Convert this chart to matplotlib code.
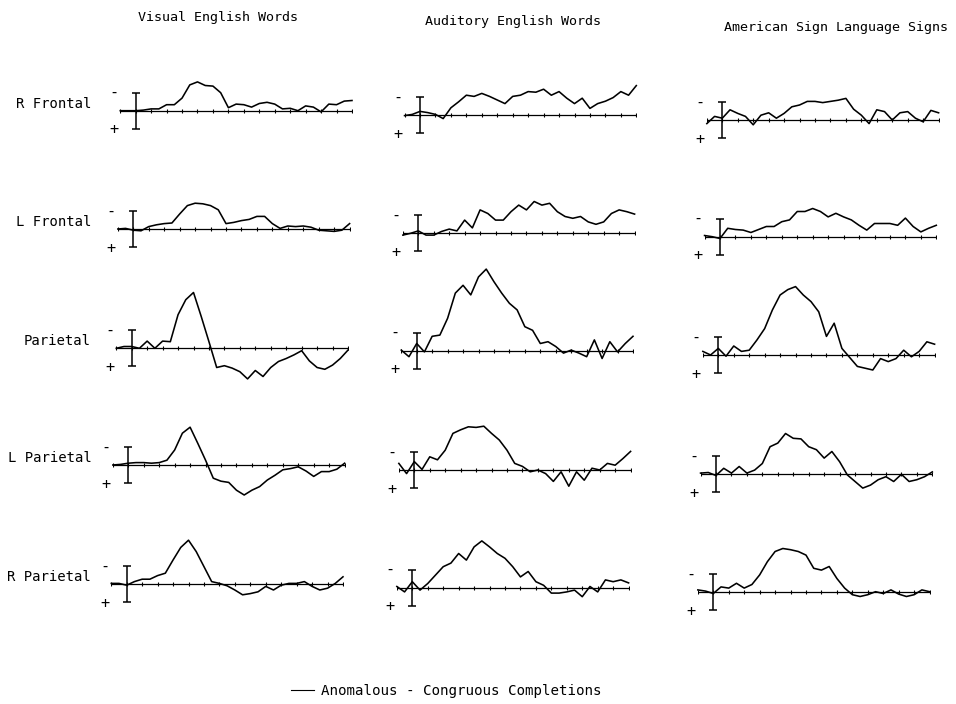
import numpy as np
import matplotlib.pyplot as plt
from matplotlib.lines import Line2D

plt.rcParams['font.family'] = 'DejaVu Sans Mono'

W, H = 956, 704
PX_PER_UV = 6.0       # vertical scale of every panel
PX_PER_MS = 0.1545    # horizontal scale of every panel

# time samples (ms) and difference waves (Anomalous - Congruous), in uV of
# negativity: positive numbers are drawn upward, as the '-' marker shows
times = list(range(-100, 1401, 50))

columns = ['Visual English Words', 'Auditory English Words',
           'American Sign Language Signs']
sites = ['R Frontal', 'L Frontal', 'Parietal', 'L Parietal', 'R Parietal']
cal_uv = 3.0
legend_label = 'Anomalous - Congruous Completions'

vis_rf = [0, 0, 0, 0.1, 0.3, 0.3, 1.0, 1.0, 2.1, 4.3, 4.8, 4.2, 4.1, 3.0, 0.5, 1.1,
          1.0, 0.6, 1.2, 1.4, 1.1, 0.3, 0.4, 0, 0.8, 0.6, -0.2, 1.1, 1.0, 1.6, 1.7]
vis_lf = [0, 0.1, -0.2, -0.3, 0.4, 0.7, 0.9, 1.0, 2.5, 3.9, 4.3, 4.2, 3.9, 3.2, 0.9, 1.1,
          1.4, 1.6, 2.1, 2.1, 0.9, 0.1, 0.5, 0.4, 0.5, 0.3, -0.2, -0.3, -0.4, -0.2, 0.9]
vis_p = [0, 0.3, 0.3, 0, 1.2, 0, 1.2, 1.1, 5.6, 8.1, 9.3, 5.3, 1.1, -3.2, -2.9, -3.3,
         -3.9, -5.1, -3.7, -4.7, -3.2, -2.2, -1.7, -1.1, -0.4, -2.1, -3.2, -3.5, -2.8, -1.7, -0.3]
vis_lp = [0, 0.1, 0.3, 0.4, 0.4, 0.3, 0.4, 0.8, 2.5, 5.3, 6.3, 3.6, 0.8, -2.2, -2.7, -2.9,
          -4.2, -5.0, -4.2, -3.6, -2.5, -1.7, -0.8, -0.6, -0.3, -1.0, -1.9, -1.1, -1.1, -0.7, 0.3]
vis_rp = [0.1, 0.1, -0.2, 0.4, 0.8, 0.8, 1.4, 1.8, 4.0, 6.1, 7.3, 5.4, 2.9, 0.4, 0.1, -0.3,
          -1.0, -1.8, -1.6, -1.3, -0.4, -1.0, -0.2, 0.1, 0.1, 0.4, -0.4, -1.0, -0.7, 0.1, 1.2]

aud_rf = [-0.1, 0.1, 0.6, 0.4, 0.1, -0.6, 1.2, 2.2, 3.3, 3.1, 3.6, 3.1, 2.5, 1.9, 3.1, 3.3,
          3.9, 3.8, 4.3, 3.3, 3.9, 2.8, 1.9, 2.8, 1.1, 1.9, 2.3, 2.9, 3.9, 3.3, 4.9]
aud_lf = [-0.3, 0, 0.4, -0.3, -0.3, 0.3, 0.7, 0.4, 2.2, 0.9, 3.9, 3.3, 2.2, 2.2, 3.6, 4.7,
          3.9, 5.3, 4.7, 5.0, 3.6, 2.8, 2.5, 2.8, 1.9, 1.5, 1.9, 3.3, 3.9, 3.6, 3.2]
aud_p = [0.1, -1.0, 1.2, -0.2, 2.4, 2.6, 5.4, 9.6, 10.9, 9.3, 12.3, 13.6, 11.5, 9.6, 7.9, 6.8,
         4.0, 3.4, 1.2, 1.5, 0.7, -0.4, 0.1, -0.4, -1.0, 1.8, -1.3, 1.5, -0.2, 1.2, 2.4]
aud_lp = [1.1, -0.6, 1.4, 0.1, 2.2, 1.7, 3.3, 6.1, 6.7, 7.2, 7.1, 7.3, 6.1, 5.0, 3.3, 1.1,
          0.6, -0.3, 0, -0.6, -1.9, -0.3, -2.7, -0.3, -1.7, 0.3, 0, 1.1, 0.8, 1.9, 3.1]
aud_rp = [0.2, -0.7, 1.0, -0.4, 0.7, 2.1, 3.5, 4.1, 5.7, 4.6, 6.8, 7.8, 6.8, 5.7, 4.9, 3.5,
          1.8, 2.7, 1.0, 0.4, -0.9, -0.9, -0.7, -0.4, -1.5, 0.2, -0.7, 1.3, 1.0, 1.3, 0.8]

asl_rf = [-0.6, 0.6, 0.3, 1.7, 1.1, 0.6, -0.8, 0.8, 1.2, 0.3, 1.1, 2.2, 2.5, 3.1, 3.1, 2.9,
          3.1, 3.3, 3.6, 1.8, 0.8, -0.6, 1.7, 1.4, 0, 1.2, 1.4, 0.3, -0.3, 1.6, 1.2]
asl_lf = [0.2, 0, -0.3, 1.4, 1.2, 1.1, 0.7, 1.2, 1.7, 1.7, 2.5, 2.8, 4.2, 4.2, 4.7, 4.2,
          3.3, 3.9, 3.3, 2.8, 1.9, 1.1, 2.2, 2.2, 2.2, 1.9, 3.1, 1.7, 0.8, 1.4, 1.9]
asl_p = [0.6, 0, 1.1, -0.2, 1.5, 0.6, 0.8, 2.5, 4.4, 7.5, 10.0, 10.9, 11.4, 10.0, 8.9, 7.2,
         3.1, 5.3, 1.1, -0.4, -1.9, -2.2, -2.5, -0.6, -1.1, -0.6, 0.8, -0.3, 0.6, 2.2, 1.8]
asl_lp = [0.2, 0.3, -0.2, 1.0, 0.2, 1.3, 0.2, 0.7, 1.8, 4.6, 5.2, 6.8, 6.0, 5.9, 4.6, 4.1,
          2.7, 3.8, 2.1, -0.1, -1.2, -2.3, -1.8, -0.9, -0.4, -1.2, 0, -1.2, -0.9, -0.4, 0.4]
asl_rp = [0.4, 0.2, -0.2, 0.9, 0.7, 1.5, 0.7, 1.3, 2.9, 5.1, 6.8, 7.3, 7.1, 6.8, 6.2, 4.0,
          3.7, 4.3, 2.3, 0.7, -0.4, -0.7, -0.4, 0.1, -0.2, 0.4, -0.3, -0.7, -0.4, 0.4, 0.1]

waves = [[vis_rf, vis_lf, vis_p, vis_lp, vis_rp],
         [aud_rf, aud_lf, aud_p, aud_lp, aud_rp],
         [asl_rf, asl_lf, asl_p, asl_lp, asl_rp]]

# where each panel sits on the (slightly skewed) scanned page: pixel x of
# stimulus onset and pixel y of the baseline
onset_x = [[135.7, 133.3, 131.7, 128.3, 126.7],
           [420.0, 418.3, 416.7, 414.3, 412.3],
           [722.3, 720.0, 718.3, 716.0, 713.3]]
base_y = [[110.7, 229.0, 348.3, 465.0, 584.0],
          [115.0, 233.3, 350.7, 470.0, 587.7],
          [120.0, 236.7, 355.0, 474.3, 592.3]]
title_pos = [(218, 18), (513, 22), (836, 28)]
label_pos = [(91, 104), (91, 222), (91, 341), (92, 458), (91, 577)]

T0, T1 = times[0], times[-1]
UV_LO, UV_HI = -7.0, 15.0

fig = plt.figure(figsize=(W / 100, H / 100), dpi=100, facecolor='white')

for c in range(3):
    for r in range(5):
        x0 = onset_x[c][r] + T0 * PX_PER_MS
        x1 = onset_x[c][r] + T1 * PX_PER_MS
        top = base_y[c][r] - UV_HI * PX_PER_UV
        bot = base_y[c][r] - UV_LO * PX_PER_UV
        ax = fig.add_axes([x0 / W, 1 - bot / H, (x1 - x0) / W, (bot - top) / H])
        ax.set_xlim(T0, T1)
        ax.set_ylim(UV_LO, UV_HI)
        ax.axis('off')

        # baseline with 100 ms ticks
        ax.plot([T0, T1], [0, 0], color='black', lw=0.9, solid_capstyle='butt')
        ticks = list(range(T0, T1 + 1, 100))
        ax.plot(ticks, [0] * len(ticks), ls='none', marker='|', ms=2.5,
                mew=0.8, color='black')

        # calibration bar at stimulus onset
        ax.errorbar([0], [0], yerr=cal_uv, fmt='none', ecolor='black',
                    elinewidth=1.1, capsize=2.8, capthick=1.1)
        ax.text(-142, cal_uv, '-', fontsize=11, ha='center', va='center')
        ax.text(-142, -cal_uv - 0.2, '+', fontsize=11,
                ha='center', va='center')

        ax.plot(times, waves[c][r], color='black', lw=1.15,
                clip_on=False, solid_joinstyle='round')

for c, (tx, ty) in enumerate(title_pos):
    fig.text(tx / W, 1 - ty / H, columns[c], fontsize=9.6, ha='center',
             va='center')
for r, (lx, ly) in enumerate(label_pos):
    fig.text(lx / W, 1 - ly / H, sites[r], fontsize=10, ha='right', va='center')

handle = Line2D([], [], color='black', lw=0.8)
fig.legend([handle], [legend_label], loc='center', frameon=False,
           bbox_to_anchor=(446 / W, 1 - 691 / H), fontsize=10.2,
           handlelength=1.6, handletextpad=0.5)

fig.savefig('out.png', dpi=100, facecolor='white')
